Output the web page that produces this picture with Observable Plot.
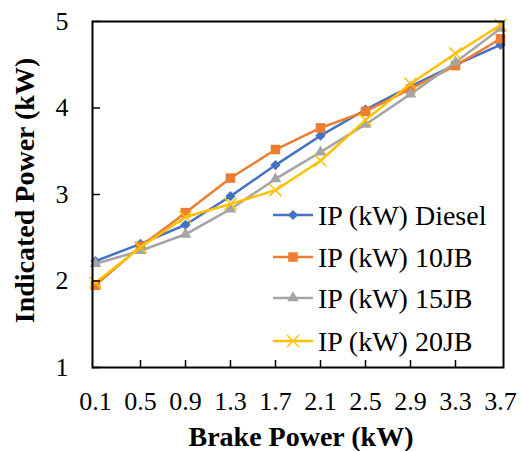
<!DOCTYPE html>
<html>
<head>
<meta charset="utf-8">
<script src="https://cdn.jsdelivr.net/npm/d3@7"></script>
<script src="https://cdn.jsdelivr.net/npm/@observablehq/plot@0.6"></script>
<style>
  html, body { margin: 0; padding: 0; background: #fff; }
  #chart { width: 522px; height: 451px; }
  svg { font-family: "Liberation Serif", "Times New Roman", serif; }
</style>
</head>
<body>
<div id="chart"></div>
<script>
const brakePower = ["0.1", "0.5", "0.9", "1.3", "1.7", "2.1", "2.5", "2.9", "3.3", "3.7"];
const seriesNames = ["IP (kW) Diesel", "IP (kW) 10JB", "IP (kW) 15JB", "IP (kW) 20JB"];
const diesel = [2.23, 2.43, 2.65, 2.98, 3.34, 3.68, 3.98, 4.25, 4.50, 4.73];
const jb10   = [1.95, 2.40, 2.79, 3.19, 3.52, 3.77, 3.96, 4.22, 4.49, 4.80];
const jb15   = [2.20, 2.35, 2.54, 2.83, 3.18, 3.49, 3.81, 4.16, 4.53, 4.92];
const jb20   = [1.98, 2.39, 2.74, 2.89, 3.05, 3.39, 3.86, 4.28, 4.63, 4.96];
const yTicks = [1, 2, 3, 4, 5];
const xTitle = "Brake Power (kW)";
const yTitle = "Indicated Power (kW)";

const colors = ["#4472C4", "#ED7D31", "#A5A5A5", "#FFC000"];
const symbols = ["diamond2", "square", "triangle", "times"];
const radii = [4.6, 5.4, 4.3, 5.5];

const seriesValues = [diesel, jb10, jb15, jb20];
const rows = [];
seriesNames.forEach((s, i) => {
  seriesValues[i].forEach((v, j) => rows.push({series: s, bp: brakePower[j], ip: v}));
});

const marks = [];
seriesNames.forEach((s, i) => {
  const data = rows.filter(d => d.series === s);
  marks.push(Plot.line(data, {x: "bp", y: "ip", stroke: colors[i], strokeWidth: 2.5}));
  const isStroke = symbols[i] === "times";
  marks.push(Plot.dot(data, {
    x: "bp", y: "ip", symbol: () => symbols[i], r: radii[i],
    fill: isStroke ? "none" : colors[i],
    stroke: isStroke ? colors[i] : "none",
    strokeWidth: isStroke ? 1.5 : 0
  }));
});

const W = 522, H = 451, mL = 92, mR = 19, mT = 21, mB = 84;
const innerW = W - mL - mR, innerH = H - mT - mB;

const chart = Plot.plot({
  width: W,
  height: H,
  marginLeft: mL,
  marginRight: mR,
  marginTop: mT,
  marginBottom: mB,
  style: {fontFamily: '"Liberation Serif", "Times New Roman", serif', background: "#fff"},
  x: {type: "point", domain: brakePower, padding: 0, axis: null},
  y: {domain: [1, 5], axis: null},
  symbol: {type: "identity"},
  marks: [
    ...marks,
    Plot.tickY(yTicks, {y: d => d, insetRight: innerW - 8, stroke: "#000", strokeWidth: 1.5}),
    Plot.tickX(brakePower.slice(1, -1), {x: d => d, insetTop: innerH - 7, stroke: "#000", strokeWidth: 1.5}),
    Plot.frame({stroke: "#000", strokeWidth: 2}),
    Plot.axisY(yTicks, {tickSize: 0, tickPadding: 24, tickFormat: d => String(d), fontSize: 26, fill: "#000", label: null}),
    Plot.axisX(brakePower, {tickSize: 0, tickPadding: 24, fontSize: 26, fill: "#000", label: null}),
    Plot.text([xTitle], {frameAnchor: "bottom", dy: 70, dx: 3, lineAnchor: "middle", textAnchor: "middle", text: d => d, fontSize: 28, fontWeight: "bold", fill: "#000"}),
    Plot.text([yTitle], {frameAnchor: "left", dx: -67, dy: -4, rotate: -90, lineAnchor: "middle", textAnchor: "middle", text: d => d, fontSize: 28, fontWeight: "bold", fill: "#000"})
  ]
});

document.getElementById("chart").appendChild(chart);

// Legend inside the plot area
const svg = d3.select(chart);
const lg = svg.append("g").attr("text-anchor", "start");
const legendY = [215, 257, 298, 341];
const symMap = {diamond2: d3.symbolDiamond2, square: d3.symbolSquare, triangle: d3.symbolTriangle, times: d3.symbolTimes};
seriesNames.forEach((s, i) => {
  const y = legendY[i];
  lg.append("line").attr("x1", 273).attr("x2", 313).attr("y1", y).attr("y2", y)
    .attr("stroke", colors[i]).attr("stroke-width", 2.5);
  const area = Math.PI * radii[i] * radii[i];
  const p = lg.append("path").attr("d", d3.symbol(symMap[symbols[i]], area)()).attr("transform", `translate(293,${y})`);
  if (symbols[i] === "times") p.attr("fill", "none").attr("stroke", colors[i]).attr("stroke-width", 1.5);
  else p.attr("fill", colors[i]);
  lg.append("text").attr("x", 318).attr("y", y).attr("dy", "0.35em")
    .attr("text-anchor", "start")
    .attr("font-size", 28).attr("fill", "#000").text(s);
});
</script>
</body>
</html>
